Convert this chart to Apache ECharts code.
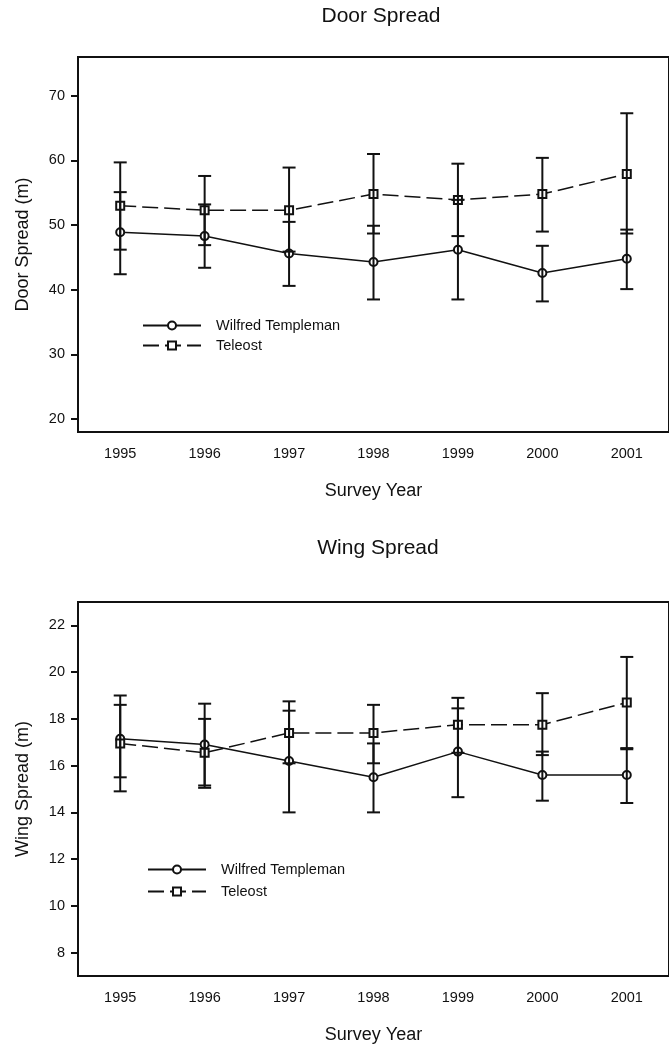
<!DOCTYPE html>
<html>
<head>
<meta charset="utf-8">
<script src="https://cdn.jsdelivr.net/npm/echarts@6/dist/echarts.min.js"></script>
<style>
  html, body { margin: 0; padding: 0; background: #fff; }
  #chart { width: 669px; height: 1049px; }
</style>
</head>
<body>
<div id="chart"></div>
<script>
const years = ['1995', '1996', '1997', '1998', '1999', '2000', '2001']
const seriesNames = ['Wilfred Templeman', 'Teleost']

// Door spread (m)
const doorWT = [48.9, 48.3, 45.6, 44.3, 46.2, 42.6, 44.8]
const doorWTLow = [42.4, 43.4, 40.6, 38.5, 38.5, 38.2, 40.1]
const doorWTHigh = [55.1, 53.2, 50.5, 49.9, 53.9, 46.8, 49.3]
const doorTel = [53.0, 52.3, 52.3, 54.8, 53.9, 54.8, 57.9]
const doorTelLow = [46.2, 46.9, 45.9, 48.7, 48.3, 49.0, 48.7]
const doorTelHigh = [59.7, 57.6, 58.9, 61.0, 59.5, 60.4, 67.3]
const doorTicks = [20, 30, 40, 50, 60, 70]

// Wing spread (m)
const wingWT = [17.15, 16.9, 16.2, 15.5, 16.6, 15.6, 15.6]
const wingWTLow = [15.5, 15.15, 14.0, 14.0, 14.65, 14.5, 14.4]
const wingWTHigh = [18.6, 18.65, 18.35, 16.95, 18.45, 16.6, 16.75]
const wingTel = [16.95, 16.55, 17.4, 17.4, 17.75, 17.75, 18.7]
const wingTelLow = [14.9, 15.05, 16.1, 16.1, 16.55, 16.45, 16.7]
const wingTelHigh = [19.0, 18.0, 18.75, 18.6, 18.9, 19.1, 20.65]
const wingTicks = [8, 10, 12, 14, 16, 18, 20, 22]

const font = 'Liberation Sans, Arial, sans-serif'
const ink = '#111'

const chart = echarts.init(document.getElementById('chart'))

// vertical bar with caps, drawn through the axis scales
function errorBars(idx, low, high) {
  return {
    type: 'custom',
    xAxisIndex: idx,
    yAxisIndex: idx,
    z: 5,
    silent: true,
    data: years.map((y, i) => [y, low[i], high[i]]),
    encode: { x: 0, y: [1, 2] },
    renderItem: function (params, api) {
      const lo = api.coord([api.value(0), api.value(1)])
      const hi = api.coord([api.value(0), api.value(2)])
      const w = 6.5
      const style = { stroke: ink, lineWidth: 2 }
      return {
        type: 'group',
        children: [
          { type: 'line', shape: { x1: lo[0], y1: lo[1], x2: hi[0], y2: hi[1] }, style },
          { type: 'line', shape: { x1: lo[0] - w, y1: lo[1], x2: lo[0] + w, y2: lo[1] }, style },
          { type: 'line', shape: { x1: hi[0] - w, y1: hi[1], x2: hi[0] + w, y2: hi[1] }, style }
        ]
      }
    }
  }
}

function lineSeries(idx, name, values, dashed) {
  return {
    name: name,
    type: 'line',
    xAxisIndex: idx,
    yAxisIndex: idx,
    data: values,
    symbol: dashed ? 'emptyRect' : 'emptyCircle',
    symbolSize: 8,
    z: 3,
    lineStyle: { color: ink, width: 1.5, type: dashed ? [16, 6] : 'solid' },
    itemStyle: { color: ink, borderColor: ink, borderWidth: 1.5 }
  }
}

function xAxis(idx) {
  return {
    type: 'category',
    gridIndex: idx,
    data: years,
    boundaryGap: true,
    name: 'Survey Year',
    nameLocation: 'middle',
    nameGap: 50,
    nameTextStyle: { fontFamily: font, fontSize: 18, color: ink },
    axisLine: { lineStyle: { color: ink, width: 2 } },
    axisTick: { alignWithLabel: true, length: 6, lineStyle: { color: ink, width: 2 } },
    axisLabel: { fontFamily: font, fontSize: 14.5, color: ink, margin: 14 },
    splitLine: { show: false }
  }
}

function yAxis(idx, name, min, max, ticks) {
  return {
    type: 'value',
    gridIndex: idx,
    min: min,
    max: max,
    name: name,
    nameLocation: 'middle',
    nameGap: 46,
    nameTextStyle: { fontFamily: font, fontSize: 18, color: ink },
    axisLine: { show: true, lineStyle: { color: ink, width: 2 } },
    axisTick: { show: true, length: 7, customValues: ticks, lineStyle: { color: ink, width: 2 } },
    axisLabel: { fontFamily: font, fontSize: 14.5, color: ink, margin: 13, customValues: ticks },
    splitLine: { show: false }
  }
}

function legend(top, left, gap) {
  return {
    data: seriesNames,
    orient: 'vertical',
    left: left,
    top: top,
    padding: 0,
    itemWidth: 58,
    itemHeight: 10,
    itemGap: gap,
    selectedMode: false,
    textStyle: { fontFamily: font, fontSize: 14.5, color: ink, padding: [0, 0, 0, 10] }
  }
}

const option = {
  animation: false,
  backgroundColor: '#fff',
  title: [
    { text: 'Door Spread', left: 381, top: 6, textAlign: 'center', padding: 0,
      textStyle: { fontFamily: font, fontSize: 21, fontWeight: 'normal', color: ink } },
    { text: 'Wing Spread', left: 378, top: 538, textAlign: 'center', padding: 0,
      textStyle: { fontFamily: font, fontSize: 21, fontWeight: 'normal', color: ink } }
  ],
  legend: [legend(318, 142, 5), legend(862, 147, 7)],
  grid: [
    { left: 78, right: -9, top: 57, height: 375, show: true, borderColor: ink, borderWidth: 2 },
    { left: 78, right: -9, top: 602, height: 374, show: true, borderColor: ink, borderWidth: 2 }
  ],
  xAxis: [xAxis(0), xAxis(1)],
  yAxis: [
    yAxis(0, 'Door Spread (m)', 18, 76, doorTicks),
    yAxis(1, 'Wing Spread (m)', 7, 23, wingTicks)
  ],
  series: [
    lineSeries(0, seriesNames[0], doorWT, false),
    lineSeries(0, seriesNames[1], doorTel, true),
    errorBars(0, doorWTLow, doorWTHigh),
    errorBars(0, doorTelLow, doorTelHigh),
    lineSeries(1, seriesNames[0], wingWT, false),
    lineSeries(1, seriesNames[1], wingTel, true),
    errorBars(1, wingWTLow, wingWTHigh),
    errorBars(1, wingTelLow, wingTelHigh)
  ]
}

chart.setOption(option)
</script>
</body>
</html>
